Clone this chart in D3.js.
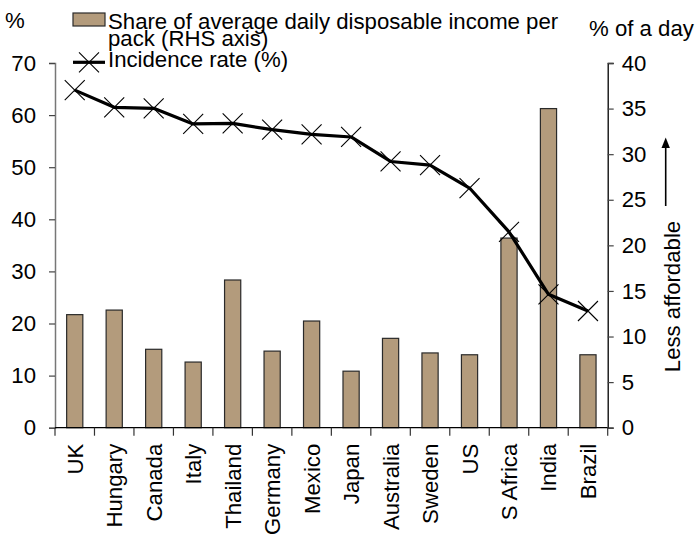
<!DOCTYPE html>
<html>
<head>
<meta charset="utf-8">
<script src="https://cdn.jsdelivr.net/npm/d3@7"></script>
<style>
  body { margin: 0; background: #fff; }
  svg text { font-family: "Liberation Sans", Arial, sans-serif; fill: #000; }
</style>
</head>
<body>
<svg id="chart" width="697" height="536"></svg>
<script>
// Countries, ordered by smoking incidence
const countries = ["UK", "Hungary", "Canada", "Italy", "Thailand", "Germany", "Mexico",
  "Japan", "Australia", "Sweden", "US", "S Africa", "India", "Brazil"];
// Share of average daily disposable income per pack (% of a day, right axis)
const incomeShare = [12.4, 12.9, 8.6, 7.2, 16.2, 8.4, 11.7, 6.2, 9.8, 8.2, 8.0, 20.8, 35.0, 8.0];
// Incidence rate (%, left axis)
const incidence = [64.8, 61.5, 61.3, 58.3, 58.4, 57.2, 56.3, 55.8, 51.1, 50.4, 46.0, 37.6, 25.6, 22.4];
const leftTicks = [0, 10, 20, 30, 40, 50, 60, 70];
const rightTicks = [0, 5, 10, 15, 20, 25, 30, 35, 40];

const svg = d3.select("#chart");
const fontSize = 22.2;
const x0 = 55, x1 = 607.7, yTop = 63, yBot = 427.7;

const x = d3.scaleBand().domain(countries).range([x0, x1]).paddingInner(0).paddingOuter(0);
const yL = d3.scaleLinear().domain([0, 70]).range([yBot, yTop]);
const yR = d3.scaleLinear().domain([0, 40]).range([yBot, yTop]);

// Bars (right axis)
const barW = x.bandwidth() * 0.41;
svg.append("g").selectAll("rect").data(countries).join("rect")
  .attr("x", d => x(d) + (x.bandwidth() - barW) / 2)
  .attr("y", (d, i) => yR(incomeShare[i]))
  .attr("width", barW)
  .attr("height", (d, i) => yBot - yR(incomeShare[i]))
  .attr("fill", "#b39b7c")
  .attr("stroke", "#2a2a2a")
  .attr("stroke-width", 1.2);

// Left axis
const gL = svg.append("g").attr("transform", `translate(${x0},0)`)
  .call(d3.axisLeft(yL).tickValues(leftTicks).tickSize(6).tickPadding(13));
gL.select(".domain").attr("stroke", "#777").attr("stroke-width", 1.5);
gL.selectAll(".tick line").attr("stroke", "#444").attr("stroke-width", 1.2);
gL.selectAll(".tick text").attr("font-size", fontSize).style("font-family", "Liberation Sans, Arial, sans-serif");

// Right axis
const gR = svg.append("g").attr("transform", `translate(${x1},0)`)
  .call(d3.axisRight(yR).tickValues(rightTicks).tickSize(6).tickPadding(8));
gR.select(".domain").attr("stroke", "#000").attr("stroke-width", 1.3);
gR.selectAll(".tick line").attr("stroke", "#444").attr("stroke-width", 1.2);
gR.selectAll(".tick text").attr("font-size", fontSize).style("font-family", "Liberation Sans, Arial, sans-serif");

// Category axis with ticks on band boundaries
const gX = svg.append("g");
gX.append("line").attr("x1", x0).attr("x2", x1).attr("y1", yBot).attr("y2", yBot)
  .attr("stroke", "#000").attr("stroke-width", 1.3);
const bounds = countries.map(d => x(d)).concat([x1]);
gX.selectAll("line.tk").data(bounds).join("line").attr("class", "tk")
  .attr("x1", d => d).attr("x2", d => d).attr("y1", yBot).attr("y2", yBot + 8)
  .attr("stroke", "#333").attr("stroke-width", 1.2);
gX.selectAll("text").data(countries).join("text")
  .attr("transform", d => `translate(${x(d) + x.bandwidth() / 2 + 8},${yBot + 16}) rotate(-90)`)
  .attr("text-anchor", "end")
  .attr("font-size", fontSize)
  .text(d => d);

// Incidence line (left axis)
const line = d3.line().x((d, i) => x(countries[i]) + x.bandwidth() / 2).y(d => yL(d));
svg.append("path").datum(incidence)
  .attr("d", line).attr("fill", "none").attr("stroke", "#000")
  .attr("stroke-width", 3.2).attr("stroke-linejoin", "round");

const cross = (g, cx, cy, s) => {
  g.append("path")
    .attr("d", `M${cx - s},${cy - s}L${cx + s},${cy + s}M${cx - s},${cy + s}L${cx + s},${cy - s}`)
    .attr("stroke", "#000").attr("stroke-width", 1.1).attr("fill", "none");
};
const markers = svg.append("g");
incidence.forEach((v, i) => cross(markers, x(countries[i]) + x.bandwidth() / 2, yL(v), 10));

// Axis titles
svg.append("text").attr("x", 5).attr("y", 28).attr("font-size", fontSize).text("%");
svg.append("text").attr("x", 589).attr("y", 36).attr("font-size", fontSize).text("% of a day");

// Less affordable note with arrow
svg.append("text")
  .attr("transform", "translate(680,296.5) rotate(-90)")
  .attr("text-anchor", "middle").attr("font-size", fontSize)
  .text("Less affordable");
svg.append("line").attr("x1", 665.7).attr("x2", 665.7).attr("y1", 206).attr("y2", 146)
  .attr("stroke", "#000").attr("stroke-width", 1.6);
svg.append("path").attr("d", "M665.7,137.5L661.5,148L669.9,148Z").attr("fill", "#000");

// Legend
const lg = svg.append("g");
lg.append("rect").attr("x", 73).attr("y", 13).attr("width", 32).attr("height", 13)
  .attr("fill", "#b39b7c").attr("stroke", "#2a2a2a").attr("stroke-width", 1.2);
lg.append("text").attr("x", 108).attr("y", 28.5).attr("font-size", fontSize)
  .text("Share of average daily disposable income per");
lg.append("text").attr("x", 108).attr("y", 45.5).attr("font-size", fontSize)
  .text("pack (RHS axis)");
lg.append("line").attr("x1", 73).attr("x2", 105).attr("y1", 62.3).attr("y2", 62.3)
  .attr("stroke", "#000").attr("stroke-width", 3.2);
cross(lg, 89, 62.3, 10);
lg.append("text").attr("x", 108).attr("y", 67).attr("font-size", fontSize)
  .text("Incidence rate (%)");
</script>
</body>
</html>
